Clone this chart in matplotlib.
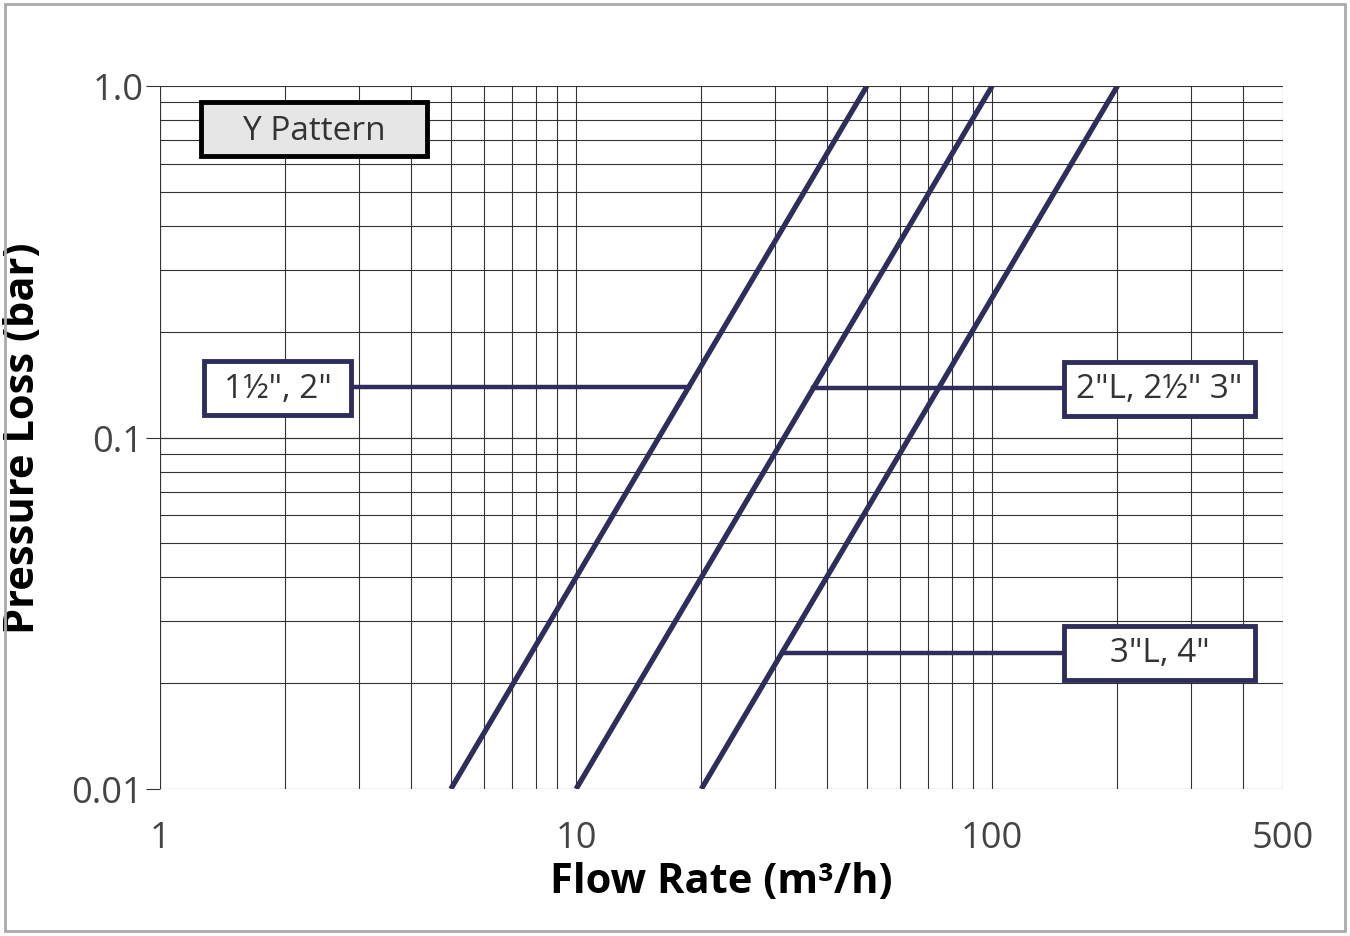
import numpy as np
import matplotlib.pyplot as plt
from matplotlib.patches import Rectangle
from matplotlib.ticker import FixedLocator, NullFormatter

labels = ['1½", 2"', '2"L, 2½" 3"', '3"L, 4"']
flow_at_001 = [5, 10, 20]     # m3/h at 0.01 bar
flow_at_1 = [50, 100, 200]    # m3/h at 1.0 bar
label_dp = [0.139, 0.138, 0.0244]
xticks = [1, 10, 100, 500]
xticklabels = ['1', '10', '100', '500']
yticks = [0.01, 0.1, 1.0]
yticklabels = ['0.01', '0.1', '1.0']

navy = '#2e2d5c'
plt.rcParams['font.family'] = ['Open Sans', 'DejaVu Sans']
fig = plt.figure(figsize=(13.5, 9.37), dpi=100)
W, H = 1350, 937
fig.patches.append(Rectangle((5/W, 5/H), 1-10/W, 1-10/H, transform=fig.transFigure,
                             fill=False, ec='#aaaaaa', lw=2))
ax = fig.add_axes([160/W, 1-790/H, (1283-160)/W, (790-87)/H])
ax.set_xscale('log'); ax.set_yscale('log')
ax.set_xlim(1, 500); ax.set_ylim(0.01, 1.0)

minx = [m*10**d for d in range(0, 3) for m in range(1, 10) if m*10**d <= 500]
miny = [m*10**d for d in (-2, -1) for m in range(1, 11)]
for v in minx:
    ax.axvline(v, color='#333333', lw=0.8, zorder=1)
for v in miny:
    ax.axhline(v, color='#333333', lw=0.8, zorder=1)
for s in ax.spines.values():
    s.set_visible(False)
ax.axvline(1, color='#333333', lw=0.8)

ax.xaxis.set_major_locator(FixedLocator(xticks))
ax.xaxis.set_minor_formatter(NullFormatter())
ax.set_xticklabels(xticklabels, fontsize=26, color='#444444')
ax.yaxis.set_major_locator(FixedLocator(yticks))
ax.yaxis.set_minor_locator(FixedLocator([]))
ax.set_yticklabels(yticklabels, fontsize=26, color='#444444')
ax.tick_params(axis='x', which='both', length=0, pad=22)
ax.tick_params(axis='y', length=10, width=0.8, color='#333333', pad=2)
ax.xaxis.set_minor_locator(FixedLocator([]))
ax.set_xlabel('Flow Rate (m³/h)', fontsize=30, fontweight='bold', labelpad=4)
ax.set_ylabel('Pressure Loss (bar)', fontsize=30, fontweight='bold', labelpad=20)

for q0, q1 in zip(flow_at_001, flow_at_1):
    ax.plot([q0, q1], [0.01, 1.0], color=navy, lw=3.8, zorder=3, solid_capstyle='butt')

def ax_x(px): return (px-160)/(1283-160)
def ax_y(py): return (790-py)/(790-87)

# Y Pattern box
ax.add_patch(Rectangle((ax_x(201), ax_y(157)), (427-201)/1123, (157-103)/703,
                       transform=ax.transAxes, fc='#e6e6e6', ec='black', lw=3.5, zorder=5))
ax.text(ax_x(314), ax_y(131), 'Y Pattern', transform=ax.transAxes, ha='center', va='center',
        fontsize=24, color='#333333', zorder=6)

boxes = [(204, 351), (1064, 1255), (1064, 1255)]
boxy = [(362, 416), (363, 417), (627, 681)]
trans = ax.transAxes
for lab, (bx0, bx1), (by0, by1), dp, q0, q1 in zip(labels, boxes, boxy, label_dp, flow_at_001, flow_at_1):
    qline = q0 * np.sqrt(dp / 0.01)
    yc = (by0 + by1) / 2
    edge_x = bx1 if bx1 < 600 else bx0
    # leader line: from box edge (axes coords) to curve (data coords)
    xe = 10 ** (ax_x(edge_x) * np.log10(500))
    ax.plot([xe, qline], [dp, dp], color=navy, lw=3.2, zorder=4)
    ax.add_patch(Rectangle((ax_x(bx0), ax_y(by1)), (bx1-bx0)/1123, (by1-by0)/703,
                           transform=trans, fc='white', ec=navy, lw=3.5, zorder=5))
    ax.text(ax_x((bx0+bx1)/2), ax_y(yc), lab, transform=trans, ha='center', va='center',
            fontsize=24, color='#333333', zorder=6)

fig.savefig('out.png', dpi=100)
